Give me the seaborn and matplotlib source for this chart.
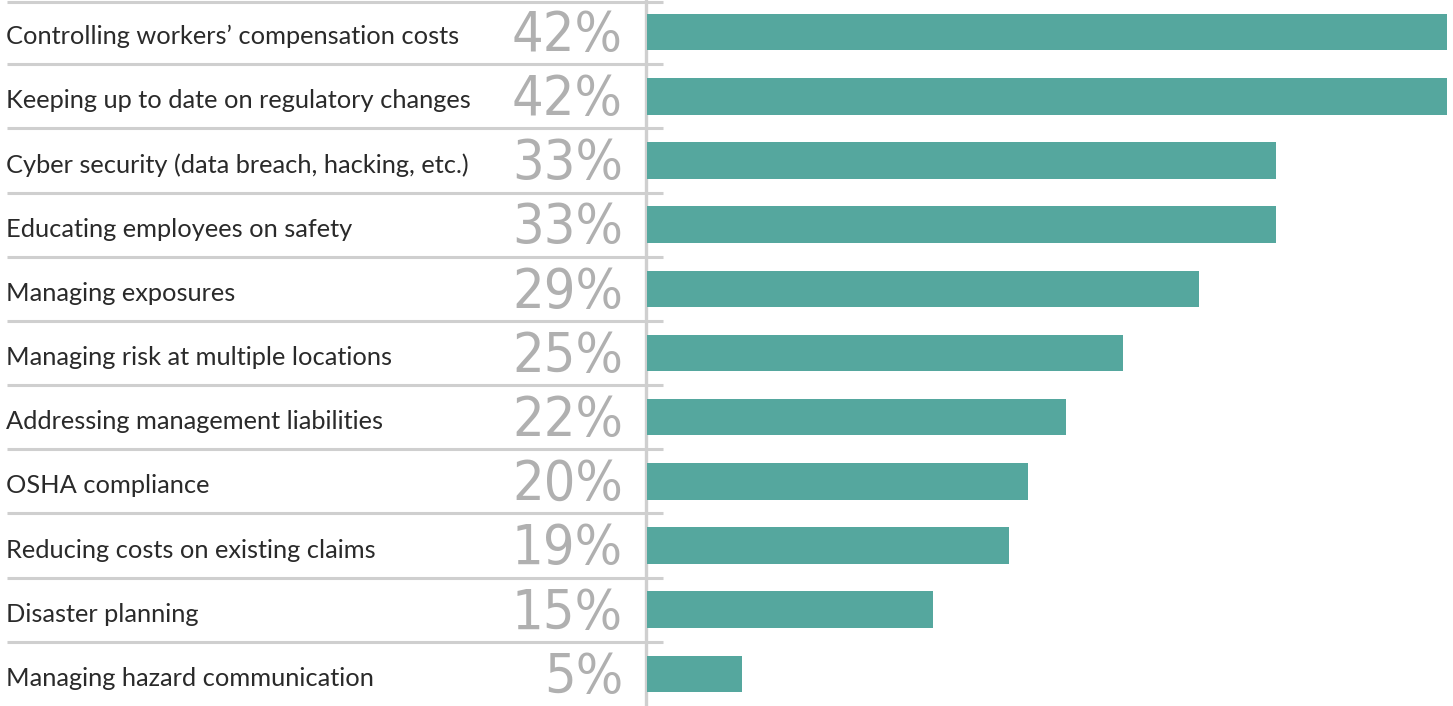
import matplotlib
matplotlib.use("Agg")
import matplotlib.pyplot as plt
from matplotlib import font_manager
import seaborn as sns
import pandas as pd

# Survey results: top risk-management concerns
categories = [
    "Controlling workers\u2019 compensation costs",
    "Keeping up to date on regulatory changes",
    "Cyber security (data breach, hacking, etc.)",
    "Educating employees on safety",
    "Managing exposures",
    "Managing risk at multiple locations",
    "Addressing management liabilities",
    "OSHA compliance",
    "Reducing costs on existing claims",
    "Disaster planning",
    "Managing hazard communication",
]
values = [42, 42, 33, 33, 29, 25, 22, 20, 19, 15, 5]
value_labels = [f"{v}%" for v in values]

df = pd.DataFrame({"category": categories, "value": values})

BAR_COLOR = "#55A79E"
GRID_COLOR = "#CFCFCF"
PCT_COLOR = "#B0B0B0"
TEXT_COLOR = "#2A2A2A"


def narrow_font():
    """Pick the narrowest installed face for the big percentage figures."""
    cands = []
    for f in font_manager.fontManager.ttflist:
        name = f.name + " " + str(f.fname)
        if any(k in name for k in ("Condensed", "Narrow")) and "Oblique" not in name \
                and "Italic" not in name and "Bold" not in name:
            cands.append(f)
    if cands:
        return font_manager.FontProperties(fname=cands[0].fname), True
    return font_manager.FontProperties(family="Roboto", weight="light"), False


pct_font, is_narrow = narrow_font()

W, H = 1453, 706
fig = plt.figure(figsize=(W / 100, H / 100), dpi=100)
n = len(categories)

# Background axes in pixel units for the label column and rules
bg = fig.add_axes([0, 0, 1, 1])
bg.set_xlim(0, W)
bg.set_ylim(n - 0.5, -0.5)
bg.axis("off")

# Bar axes occupying the right-hand panel
bar_left, bar_right = 647, 1447
ax = fig.add_axes([bar_left / W, 0, (bar_right - bar_left) / W, 1])
sns.barplot(data=df, x="value", y="category", orient="h", color=BAR_COLOR,
            width=0.57, saturation=1, ax=ax)
ax.set_xlim(0, max(values))
ax.set_ylim(n - 0.5, -0.5)
ax.axis("off")

# Horizontal separators between rows and the vertical divider
for i in range(n):
    y = i - 0.5 if i else -0.47
    bg.plot([7, 663], [y, y], color=GRID_COLOR, lw=2.2,
            solid_capstyle="butt", zorder=1)
bg.plot([645.5, 645.5], [-0.5, n - 0.5], color=GRID_COLOR, lw=2.4, zorder=1)

pct_size = 40 if is_narrow else 36
for i, (cat, lab) in enumerate(zip(categories, value_labels)):
    bg.text(6, i + 0.07, cat, ha="left", va="center", fontsize=18.3,
            family=["Lato", "DejaVu Sans"], weight="normal", color=TEXT_COLOR)
    bg.text(623, i + 0.06, lab, ha="right", va="center", fontsize=pct_size,
            fontproperties=pct_font, color=PCT_COLOR)

fig.savefig("out.png", dpi=100)
